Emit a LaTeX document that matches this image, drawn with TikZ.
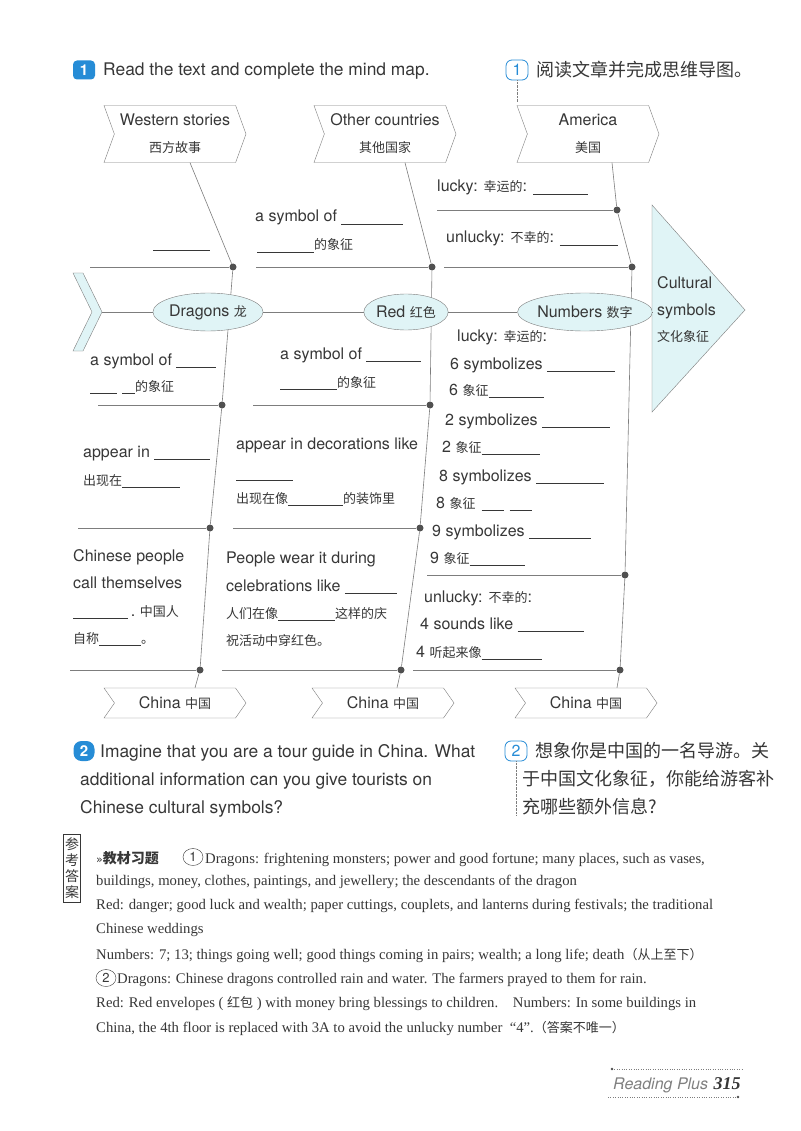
\documentclass[tikz,border=0pt]{standalone}
\usepackage{fontspec}
\setmainfont{Liberation Serif}
\newfontfamily\hvfont{TeX Gyre Heros}
\newfontfamily\cjk{Noto Sans CJK SC}
\newfontfamily\symfont{DejaVu Sans}
\usetikzlibrary{shapes.geometric, shapes.symbols, positioning, calc}

\definecolor{inkgray}{RGB}{55,55,55}
\definecolor{linegray}{RGB}{125,125,125}
\definecolor{mapcyan}{RGB}{224,244,246}
\definecolor{badgeblue}{RGB}{38,140,214}
\definecolor{dotgray}{RGB}{80,80,80}

\newcommand{\blank}[1]{\rule[-2.5pt]{#1}{0.6pt}}
\newcommand{\zh}[1]{{\cjk\fontsize{13}{15}\selectfont #1}}

\tikzset{
  txt/.style={anchor=base west, inner sep=0pt, text=inkgray, font=\hvfont\fontsize{16}{19}\selectfont},
  headtxt/.style={txt, font=\hvfont\fontsize{17.4}{20}\selectfont},
  zhhead/.style={anchor=base west, inner sep=0pt, text=inkgray, font=\cjk\fontsize{18}{20}\selectfont},
  anstxt/.style={anchor=base west, inner sep=0pt, text=inkgray, font=\fontsize{14.7}{17}\selectfont},
  chevron/.style={signal, signal from=west, signal to=east, signal pointer angle=140, draw=linegray,
    fill=white, minimum width=142pt, inner sep=0pt, align=center, text=inkgray, font=\hvfont\fontsize{16}{19}\selectfont},
  topic/.style={ellipse, draw=linegray, fill=mapcyan, inner sep=0pt, text=inkgray, font=\hvfont\fontsize{16}{19}\selectfont},
  bone/.style={draw=linegray, line width=0.6pt},
  bonedot/.style={circle, fill=dotgray, inner sep=0pt, minimum size=7pt},
  badge/.style={fill=badgeblue, rounded corners=4pt, minimum width=22pt, minimum height=19pt, inner sep=0pt,
    text=white, font=\hvfont\bfseries\fontsize{15}{15}\selectfont},
  obadge/.style={draw=badgeblue, line width=0.8pt, rounded corners=6pt, minimum width=22pt, minimum height=20pt,
    inner sep=0pt, text=badgeblue, font=\hvfont\fontsize{16}{16}\selectfont},
  guide/.style={draw=linegray, densely dotted},
  cnum/.style={ellipse, draw=inkgray, inner sep=0pt, minimum width=20pt, minimum height=17pt,
    text=inkgray, font=\hvfont\fontsize{13}{13}\selectfont}
}

\begin{document}
\begin{tikzpicture}[x=1pt, y=-1pt]
\fill[white] (0,0) rectangle (800,1131);
\useasboundingbox (0,0) rectangle (800,1131);

% task 1 heading
\node[badge] (b1) at (84,70) {1};
\node[headtxt] (h1) at (103,76) {Read the text and complete the mind map.};
\node[obadge] (ob1) at (517,70) {1};
\node[zhhead] (h1zh) at (536,77) {阅读文章并完成思维导图。};
\draw[guide] (ob1.south) -- ++(0,22);

% top and bottom boxes
\node[chevron, minimum height=57pt] (west) at (175,134) {Western stories\\[8pt]\zh{西方故事}};
\node[chevron, minimum height=57pt] (other) at (385,134) {Other countries\\[8pt]\zh{其他国家}};
\node[chevron, minimum height=57pt] (amer) at (588,134) {America\\[8pt]\zh{美国}};
\node[chevron, minimum height=30pt, signal pointer angle=110] (chinaA) at (175,703) {China \zh{中国}};
\node[chevron, minimum height=30pt, signal pointer angle=110] (chinaB) at (383,703) {China \zh{中国}};
\node[chevron, minimum height=30pt, signal pointer angle=110] (chinaC) at (586,703) {China \zh{中国}};

% joints
\node[bonedot] (d11) at (233,267) {};
\node[bonedot] (d12) at (222,405) {};
\node[bonedot] (d13) at (210,528) {};
\node[bonedot] (d14) at (200,670) {};
\node[bonedot] (d21) at (432,267) {};
\node[bonedot] (d22) at (430,405) {};
\node[bonedot] (d23) at (420,528) {};
\node[bonedot] (d24) at (401,670) {};
\node[bonedot] (d31) at (617,210) {};
\node[bonedot] (d32) at (632,267) {};
\node[bonedot] (d33) at (625,575) {};
\node[bonedot] (d34) at (620,670) {};

% bones
\draw[bone] ([xshift=15pt]west.south) -- (d11) -- (d12) -- (d13) -- (d14) -- ([xshift=20pt]chinaA.north);
\draw[bone] ([xshift=20pt]other.south) -- (d21) -- (d22) -- (d23) -- (d24) -- ([xshift=14pt]chinaB.north);
\draw[bone] ([xshift=24pt]amer.south) -- (d31) -- (d32) -- (d33) -- (d34) -- ([xshift=31pt]chinaC.north);
\draw[bone] (d11) -- ++(-143,0);
\draw[bone] (d12) -- ++(-124,0);
\draw[bone] (d13) -- ++(-132,0);
\draw[bone] (d14) -- ++(-130,0);
\draw[bone] (d21) -- ++(-176,0);
\draw[bone] (d22) -- ++(-177,0);
\draw[bone] (d23) -- ++(-187,0);
\draw[bone] (d24) -- ++(-179,0);
\draw[bone] (d31) -- ++(-180,0);
\draw[bone] (d32) -- ++(-188,0);
\draw[bone] (d33) -- ++(-198,0);
\draw[bone] (d34) -- ++(-207,0);

% spine
\filldraw[draw=linegray, fill=mapcyan] (73,273) -- (83,273) -- (102,312) -- (83,351) -- (73,351) -- (92,312) -- cycle;
\coordinate (tail) at (102,312);
\node[topic, minimum width=100pt, minimum height=38pt] (dragons) at (208,312) {Dragons \zh{龙}};
\node[topic, minimum width=78pt, minimum height=36pt] (red) at (406,312) {Red \zh{红色}};
\node[topic, minimum width=114pt, minimum height=38pt] (numbers) at (585,312) {Numbers \zh{数字}};
\filldraw[draw=linegray, fill=mapcyan] (652,205) -- (745,310) -- (652,412) -- cycle;
\coordinate (cultl) at (652,312);
\draw[bone] (tail) -- (dragons) -- (red) -- (numbers) -- (cultl);
\node[txt] (cs1) at (657,288) {Cultural};
\node[txt] (cs2) at (657,316) {symbols};
\node[txt] (cs3) at (657,341) {\zh{文化象征}};

% dragons
\node[txt] (dr0) at (153,248) {\blank{57pt}};
\node[txt] (dr1) at (90,365) {a symbol of \blank{40pt}};
\node[txt] (dr2) at (90,391) {\blank{27pt}\hspace{5pt}\blank{13pt}\zh{的象征}};
\node[txt] (dr3) at (83,457) {appear in \blank{56pt}};
\node[txt] (dr4) at (83,485) {\zh{出现在}\blank{58pt}};
\node[txt] (dr5) at (73,561) {Chinese people};
\node[txt] (dr6) at (73,588) {call themselves};
\node[txt] (dr7) at (73,616) {\blank{55pt}\,.\ \zh{中国人}};
\node[txt] (dr8) at (73,643) {\zh{自称}\blank{42pt}\zh{。}};

% red
\node[txt] (rd1) at (255,222) {a symbol of \blank{62pt}};
\node[txt] (rd2) at (257,250) {\blank{57pt}\zh{的象征}};
\node[txt] (rd3) at (280,359) {a symbol of \blank{55pt}};
\node[txt] (rd4) at (280,387) {\blank{57pt}\zh{的象征}};
\node[txt] (rd5) at (236,449) {appear in decorations like};
\node[txt] (rd6) at (236,478) {\blank{57pt}};
\node[txt] (rd7) at (236,503) {\zh{出现在像}\blank{55pt}\zh{的装饰里}};
\node[txt] (rd8) at (226,563) {People wear it during};
\node[txt] (rd9) at (226,591) {celebrations like \blank{52pt}};
\node[txt] (rd10) at (226,618) {\zh{人们在像}\blank{57pt}\zh{这样的庆}};
\node[txt] (rd11) at (226,645) {\zh{祝活动中穿红色。}};

% numbers
\node[txt] (nm1) at (437,192) {lucky: \zh{幸运的}: \blank{55pt}};
\node[txt] (nm2) at (446,243) {unlucky: \zh{不幸的}: \blank{58pt}};
\node[txt] (nm3) at (457,341) {lucky: \zh{幸运的}:};
\node[txt] (nm4) at (450,369) {6 symbolizes \blank{68pt}};
\node[txt] (nm5) at (449,395) {6 \zh{象征}\blank{55pt}};
\node[txt] (nm6) at (445,425) {2 symbolizes \blank{68pt}};
\node[txt] (nm7) at (442,452) {2 \zh{象征}\blank{58pt}};
\node[txt] (nm8) at (439,481) {8 symbolizes \blank{68pt}};
\node[txt] (nm9) at (436,508) {8 \zh{象征}\hspace{6pt}\blank{22pt}\hspace{6pt}\blank{22pt}};
\node[txt] (nm10) at (432,536) {9 symbolizes \blank{62pt}};
\node[txt] (nm11) at (430,563) {9 \zh{象征}\blank{55pt}};
\node[txt] (nm12) at (424,602) {unlucky: \zh{不幸的}:};
\node[txt] (nm13) at (420,629) {4 sounds like \blank{66pt}};
\node[txt] (nm14) at (416,657) {4 \zh{听起来像}\blank{60pt}};

% task 2
\node[badge, rounded corners=8pt, minimum width=21pt, minimum height=20pt] (b2) at (84,751) {2};
\node[headtxt] (q1) at (100,757) {Imagine that you are a tour guide in China. What};
\node[headtxt] (q2) at (80,785) {additional information can you give tourists on};
\node[headtxt] (q3) at (80,813) {Chinese cultural symbols?};
\node[obadge] (ob2) at (516,751) {2};
\node[zhhead] (q1zh) at (535,757) {想象你是中国的一名导游。关};
\node[zhhead] (q2zh) at (522,785) {于中国文化象征，你能给游客补};
\node[zhhead] (q3zh) at (522,813) {充哪些额外信息?};
\draw[guide] (ob2.south) -- ++(0,54);

% answers
\node[draw=inkgray, inner sep=1pt, minimum width=17pt, minimum height=68pt, align=center, text=inkgray,
  font=\cjk\fontsize{14}{16}\selectfont] (key) at (72,868) {参\\考\\答\\案};
\node[anstxt] (a0) at (96,863) {{\symfont\fontsize{11}{11}\selectfont »}{\cjk\bfseries\fontsize{14}{16}\selectfont 教材习题}};
\node[cnum] (c1) at (193,857) {1};
\node[anstxt] (a1) at (205,863) {Dragons: frightening monsters; power and good fortune; many places, such as vases,};
\node[anstxt] (a2) at (96,885) {buildings, money, clothes, paintings, and jewellery; the descendants of the dragon};
\node[anstxt] (a3) at (96,909) {Red: danger; good luck and wealth; paper cuttings, couplets, and lanterns during festivals; the traditional};
\node[anstxt] (a4) at (96,933) {Chinese weddings};
\node[anstxt] (a5) at (96,959) {Numbers: 7; 13; things going well; good things coming in pairs; wealth; a long life; death{\cjk\fontsize{13}{15}\selectfont （从上至下）}};
\node[cnum] (c2) at (106,978) {2};
\node[anstxt] (a6) at (117,983) {Dragons: Chinese dragons controlled rain and water. The farmers prayed to them for rain.};
\node[anstxt] (a7) at (96,1007) {Red: Red envelopes ( {\cjk\fontsize{13}{15}\selectfont 红包} ) with money bring blessings to children.\quad Numbers: In some buildings in};
\node[anstxt] (a8) at (96,1032) {China, the 4th floor is replaced with 3A to avoid the unlucky number \ “4”.{\cjk\fontsize{13}{15}\selectfont （答案不唯一）}};

% footer
\node[anchor=base west, inner sep=0pt, text=gray, font=\hvfont\itshape\fontsize{16}{16}\selectfont] (rp) at (613,1089) {Reading Plus};
\node[anchor=base west, inner sep=0pt, text=inkgray, font=\bfseries\itshape\fontsize{18}{18}\selectfont] (pg) at ([xshift=5pt]rp.base east) {315};
\draw[linegray, dotted] (612,1069) -- (742,1069);
\draw[linegray, dotted] (608,1097) -- (738,1097);
\fill[dotgray] (612,1069) circle (1.3);
\fill[dotgray] (738,1097) circle (1.3);
\end{tikzpicture}
\end{document}
